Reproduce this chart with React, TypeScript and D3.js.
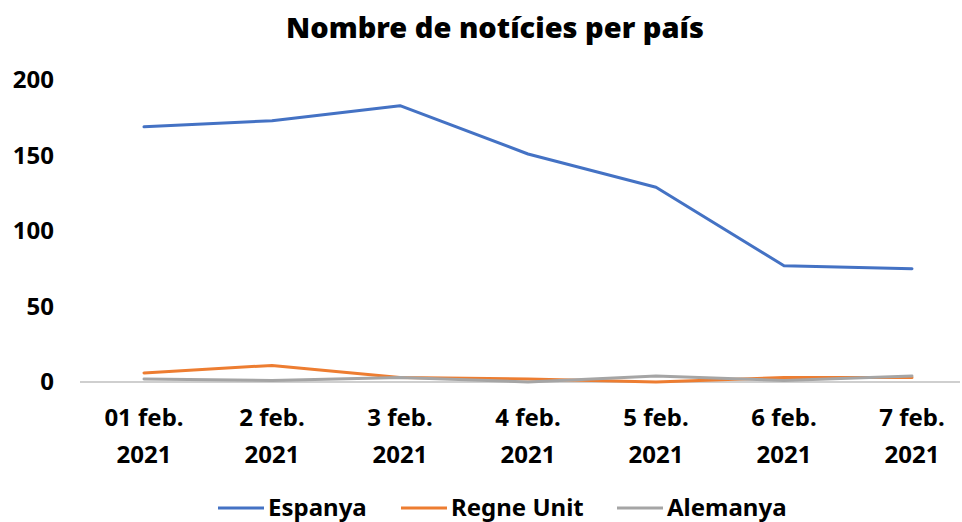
import React from "react";
import * as d3 from "d3";

const categories = ["01 feb.|2021", "2 feb.|2021", "3 feb.|2021", "4 feb.|2021", "5 feb.|2021", "6 feb.|2021", "7 feb.|2021"];
const espanya = [169, 173, 183, 151, 129, 77, 75];
const regneUnit = [6, 11, 3, 2, 0, 3, 3];
const alemanya = [2, 1, 3, 0, 4, 1, 4];
const yTicks = [0, 50, 100, 150, 200];
const seriesNames = ["Espanya", "Regne Unit", "Alemanya"];
const colors = ["#4472C4", "#ED7D31", "#A5A5A5"];

export default function App() {
  const W = 962, H = 522;
  const x = d3.scalePoint<string>().domain(categories).range([144, 912]);
  const y = d3.scaleLinear().domain([0, 200]).range([382, 80]);
  const line = d3.line<number>().x((_, i) => x(categories[i])!).y(d => y(d));
  const series = [espanya, regneUnit, alemanya];
  const font = "'Noto Sans', 'Open Sans', sans-serif";
  const legendX = [218, 401, 617];
  return (
    <svg width={W} height={H} style={{ position: "absolute", left: 0, top: 0, background: "#fff" }} fontFamily={font}>
      <text x={495} y={38} textAnchor="middle" fontSize={29} fontWeight={900} fill="#000">Nombre de notícies per país</text>
      {yTicks.map(t => (
        <text key={t} x={54} y={y(t)} dy="0.35em" textAnchor="end" fontSize={24} fontWeight={700} fill="#000">{t}</text>
      ))}
      <line x1={80} x2={960} y1={y(0)} y2={y(0)} stroke="#BFBFBF" strokeWidth={1.5} />
      {categories.map(c => {
        const [a, b] = c.split("|");
        return (
          <text key={c} x={x(c)} textAnchor="middle" fontSize={24} fontWeight={700} fill="#000">
            <tspan x={x(c)} y={426}>{a}</tspan>
            <tspan x={x(c)} y={463}>{b}</tspan>
          </text>
        );
      })}
      {series.map((s, i) => (
        <path key={i} d={line(s)!} fill="none" stroke={colors[i]} strokeWidth={3} strokeLinejoin="round" strokeLinecap="round" />
      ))}
      {seriesNames.map((n, i) => (
        <g key={n}>
          <line x1={legendX[i]} x2={legendX[i] + 46} y1={508} y2={508} stroke={colors[i]} strokeWidth={3} />
          <text x={legendX[i] + 50} y={508} dy="0.35em" fontSize={24} fontWeight={700} fill="#000">{n}</text>
        </g>
      ))}
    </svg>
  );
}
